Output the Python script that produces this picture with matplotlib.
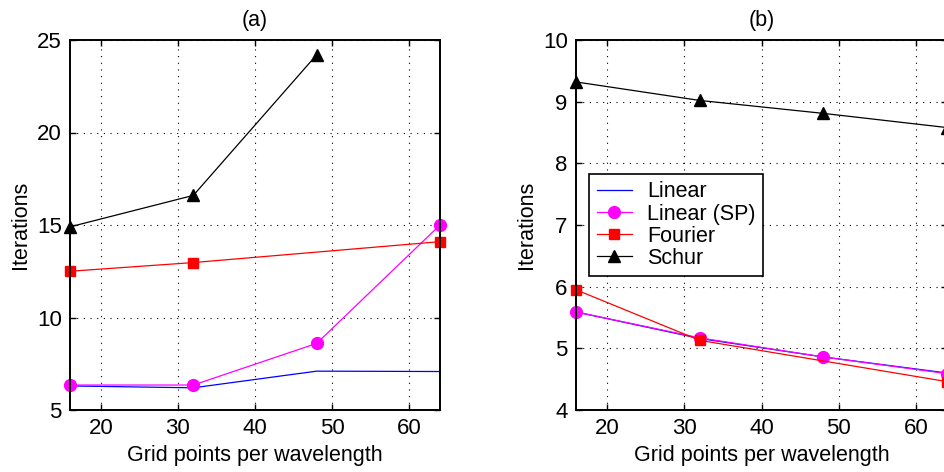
import numpy as np
import matplotlib.pyplot as plt

plt.rcParams['font.family'] = ['Liberation Sans', 'DejaVu Sans']

# data, panel (a)
x_all = [16, 32, 48, 64]
x_fourier = [16, 32, 64]
x_schur_a = [16, 32, 48]
a_linear = [6.3, 6.2, 7.1, 7.08]
a_linear_sp = [6.35, 6.35, 8.6, 15.0]
a_fourier = [12.5, 12.97, 14.1]
a_schur = [14.9, 16.6, 24.2]

# data, panel (b)
b_linear = [5.59, 5.16, 4.86, 4.6]
b_linear_sp = [5.59, 5.17, 4.86, 4.59]
b_fourier = [5.95, 5.13, 4.46]
b_schur = [9.32, 9.02, 8.81, 8.58]


def style_axes(ax, title):
    ax.set_title(title, fontsize=15.5, pad=10)
    ax.set_xlabel('Grid points per wavelength', fontsize=15.5, labelpad=4)
    ax.set_ylabel('Iterations', fontsize=15.5, labelpad=4)
    ax.set_xlim(16, 64)
    ax.set_xticks([20, 30, 40, 50, 60])
    ax.grid(True, color='black', linestyle=(0, (1, 5)), linewidth=0.8)
    ax.tick_params(direction='in', top=True, right=True, labelsize=16,
                   length=4, width=1, pad=6)
    for s in ax.spines.values():
        s.set_linewidth(1.4)


fig = plt.figure(figsize=(9.45, 4.72), dpi=100)
ax1 = fig.add_axes([70 / 945, 62 / 472, 370 / 945, 370 / 472])
ax2 = fig.add_axes([576 / 945, 62 / 472, 371 / 945, 370 / 472])

# panel (a)
ax1.plot(x_all, a_linear, color='blue', lw=0.9, label='Linear', clip_on=False)
ax1.plot(x_all, a_linear_sp, color='magenta', lw=0.9, marker='o', ms=8.5,
         label='Linear (SP)', clip_on=False)
ax1.plot(x_fourier, a_fourier, color='red', lw=0.9, marker='s', ms=6.5,
         label='Fourier', clip_on=False)
ax1.plot(x_schur_a, a_schur, color='black', lw=0.9, marker='^', ms=8.5,
         label='Schur', clip_on=False)
ax1.set_ylim(5, 25)
ax1.set_yticks([5, 10, 15, 20, 25])
style_axes(ax1, '(a)')

# panel (b)
ax2.plot(x_all, b_linear, color='blue', lw=0.9, label='Linear', clip_on=False)
ax2.plot(x_all, b_linear_sp, color='magenta', lw=0.9, marker='o', ms=8.5,
         label='Linear (SP)', clip_on=False)
ax2.plot(x_fourier, b_fourier, color='red', lw=0.9, marker='s', ms=6.5,
         label='Fourier', clip_on=False)
ax2.plot(x_all, b_schur, color='black', lw=0.9, marker='^', ms=8.5,
         label='Schur', clip_on=False)
ax2.set_ylim(4, 10)
ax2.set_yticks([4, 5, 6, 7, 8, 9, 10])
style_axes(ax2, '(b)')

leg = ax2.legend(loc='upper left', bbox_to_anchor=(0.035, 0.638),
                 borderaxespad=0, fontsize=15.5, fancybox=False,
                 edgecolor='black', framealpha=1, handlelength=1.65,
                 labelspacing=0.05, borderpad=0.35, handletextpad=0.7)
leg.get_frame().set_linewidth(1.2)

fig.savefig('out.png', dpi=100)
